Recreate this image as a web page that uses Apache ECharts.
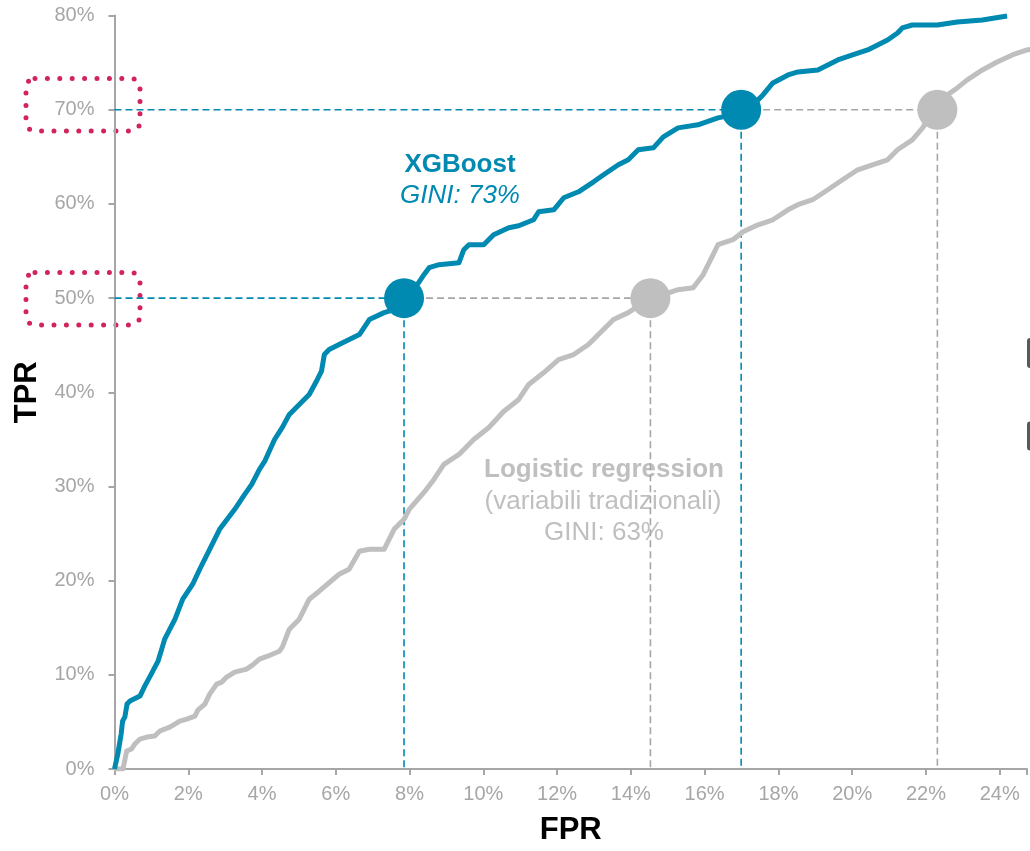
<!DOCTYPE html>
<html>
<head>
<meta charset="utf-8">
<script src="https://cdn.jsdelivr.net/npm/echarts@6/dist/echarts.min.js"></script>
<style>
html,body{margin:0;padding:0;background:#fff;overflow:hidden}
#c{width:1030px;height:851px}
</style>
</head>
<body>
<div id="c"></div>
<script>
// ---- data (percent units) ----
const xgbFpr = [0,0.09,0.18,0.22,0.28,0.34,0.42,0.69,0.82,1.01,1.18,1.28,1.36,1.64,1.85,2.12,2.31,2.58,2.85,3.26,3.53,3.72,3.93,4.07,4.34,4.55,4.74,5.01,5.28,5.50,5.61,5.69,5.82,6.09,6.64,6.91,7.31,7.58,7.85,8.12,8.39,8.53,8.80,9.34,9.47,9.61,10.01,10.28,10.69,10.96,11.36,11.50,11.91,12.18,12.58,12.99,13.26,13.66,13.93,14.20,14.61,14.88,15.28,15.82,16.36,16.77,16.99,17.31,17.58,17.85,18.26,18.53,19.07,19.34,19.61,20.01,20.42,20.69,20.96,21.23,21.36,21.63,22.31,22.85,23.53,24.20];
const xgbTpr = [0,1.59,3.71,5.09,5.51,6.89,7.21,7.74,8.80,10.18,11.45,12.73,13.79,15.91,18.03,19.62,21.21,23.33,25.45,27.57,29.16,30.22,31.82,32.66,34.99,36.27,37.65,38.71,39.77,41.36,42.21,44.01,44.54,45.07,46.13,47.72,48.46,48.78,50.0,50.9,52.49,53.23,53.55,53.76,55.14,55.67,55.67,56.73,57.48,57.69,58.32,59.17,59.38,60.66,61.29,62.35,63.10,64.16,64.69,65.75,65.96,67.13,68.08,68.40,69.14,69.46,70.0,70.52,71.58,72.85,73.70,74.02,74.23,74.76,75.29,75.82,76.35,76.88,77.41,78.15,78.69,79.00,79.00,79.32,79.53,79.96];
const lrFpr = [0,0.23,0.33,0.46,0.55,0.69,0.88,1.09,1.23,1.50,1.77,1.96,2.18,2.26,2.45,2.58,2.77,2.91,3.04,3.26,3.58,3.74,3.93,4.15,4.47,4.55,4.74,5.01,5.28,5.55,6.09,6.36,6.64,6.91,7.31,7.58,7.85,7.99,8.39,8.66,8.93,9.34,9.74,10.15,10.55,10.96,11.23,11.64,12.04,12.45,12.85,13.12,13.53,13.93,14.34,14.53,14.88,15.28,15.69,15.96,16.23,16.36,16.77,17.04,17.45,17.85,18.26,18.53,18.93,19.34,19.74,20.15,20.55,20.96,21.23,21.63,21.91,22.04,22.31,22.58,22.85,23.12,23.53,23.93,24.34,24.74,25.15];
const lrTpr = [0,0,1.91,2.12,2.65,3.18,3.39,3.50,4.03,4.45,5.09,5.30,5.62,6.26,6.89,7.95,9.01,9.23,9.76,10.29,10.60,11.03,11.66,11.98,12.51,12.94,14.85,15.91,18.03,18.88,20.68,21.21,23.12,23.33,23.33,25.45,26.51,27.57,29.37,30.75,32.34,33.40,34.99,36.27,37.96,39.24,40.83,42.10,43.48,44.01,45.07,46.13,47.72,48.46,49.52,50.0,50.37,50.90,51.11,52.49,54.61,55.67,56.20,57.05,57.79,58.32,59.38,59.92,60.45,61.51,62.57,63.63,64.16,64.69,65.75,66.81,68.08,68.93,70.0,71.58,72.32,73.17,74.23,75.08,75.82,76.35,76.56];
const opTpr = [50, 70];          // operating points (TPR)
const xgbOpFpr = [7.85, 16.99];  // FPR of XGBoost at those TPRs
const lrOpFpr = [14.53, 22.31];  // FPR of logistic regression at those TPRs

const TEAL = '#0089B1';
const GREY = '#BFBFBF';
const FONT = '"Liberation Sans", Arial, sans-serif';

const zip = (a, b) => a.map((v, i) => [v, b[i]]);

const guides = [];
opTpr.forEach((t, i) => {
  guides.push({ data: [[0, t], [xgbOpFpr[i], t]], color: TEAL });
  guides.push({ data: [[xgbOpFpr[i], t], [xgbOpFpr[i], 0]], color: TEAL });
  guides.push({ data: [[xgbOpFpr[i], t], [lrOpFpr[i], t]], color: '#A6A6A6' });
  guides.push({ data: [[lrOpFpr[i], t], [lrOpFpr[i], 0]], color: '#A6A6A6' });
});

const chart = echarts.init(document.getElementById('c'), null, { renderer: 'canvas' });

const option = {
  animation: false,
  backgroundColor: '#fff',
  grid: { left: 114.5, right: 0, top: 15.6, bottom: 81, containLabel: false },
  xAxis: {
    type: 'value', min: 0, max: 24.74, interval: 2,
    name: 'FPR', nameLocation: 'middle', nameGap: 46,
    nameTextStyle: { fontSize: 31, fontWeight: 'bold', color: '#000', fontFamily: FONT },
    axisLine: { show: true, onZero: false, lineStyle: { color: '#A6A6A6', width: 2 } },
    axisTick: { show: true, length: 6, lineStyle: { color: '#A6A6A6', width: 2 } },
    axisLabel: { margin: 15, fontSize: 20, color: '#A6A6A6', fontFamily: FONT,
      formatter: v => (Math.abs(v / 2 - Math.round(v / 2)) < 1e-6 ? Math.round(v) + '%' : '') },
    splitLine: { show: false }
  },
  yAxis: {
    type: 'value', min: 0, max: 80, interval: 10,
    name: 'TPR', nameLocation: 'middle', nameGap: 72, nameRotate: 90,
    nameTextStyle: { fontSize: 31, fontWeight: 'bold', color: '#000', fontFamily: FONT },
    axisLine: { show: true, lineStyle: { color: '#A6A6A6', width: 2 } },
    axisTick: { show: true, length: 6, lineStyle: { color: '#A6A6A6', width: 2 } },
    axisLabel: { margin: 20, fontSize: 20, color: '#A6A6A6', fontFamily: FONT, formatter: '{value}%' },
    splitLine: { show: false }
  },
  series: [
    ...guides.map(g => ({
      type: 'line', data: g.data, showSymbol: false, silent: true, z: 1,
      lineStyle: { color: g.color, width: 1.6, type: [7, 4] }
    })),
    {
      name: 'Logistic regression', type: 'line', data: zip(lrFpr, lrTpr), showSymbol: false, z: 2,
      lineStyle: { color: GREY, width: 5, join: 'round' }, clip: true
    },
    {
      name: 'XGBoost', type: 'line', data: zip(xgbFpr, xgbTpr), showSymbol: false, z: 3,
      lineStyle: { color: TEAL, width: 5, join: 'round' }, clip: true
    },
    {
      type: 'scatter', data: zip(lrOpFpr, opTpr), symbolSize: 40, z: 4,
      itemStyle: { color: GREY, opacity: 1 }
    },
    {
      type: 'scatter', data: zip(xgbOpFpr, opTpr), symbolSize: 40, z: 5,
      itemStyle: { color: TEAL, opacity: 1 }
    }
  ],
  graphic: [
    { type: 'text', left: null, x: 460, y: 165, style: { text: 'XGBoost', fill: TEAL, font: 'bold 26px ' + FONT, textAlign: 'center', textVerticalAlign: 'middle' } },
    { type: 'text', x: 460, y: 196, style: { text: 'GINI: 73%', fill: TEAL, font: 'italic 26px ' + FONT, textAlign: 'center', textVerticalAlign: 'middle' } },
    { type: 'text', x: 604, y: 470, style: { text: 'Logistic regression', fill: GREY, font: 'bold 26px ' + FONT, textAlign: 'center', textVerticalAlign: 'middle' } },
    { type: 'text', x: 603, y: 502, style: { text: '(variabili tradizionali)', fill: GREY, font: '26px ' + FONT, textAlign: 'center', textVerticalAlign: 'middle' } },
    { type: 'text', x: 604, y: 533, style: { text: 'GINI: 63%', fill: GREY, font: '26px ' + FONT, textAlign: 'center', textVerticalAlign: 'middle' } },
    { type: 'rect', shape: { x: 26, y: 78.5, width: 114, height: 52.5, r: 9 },
      style: { fill: 'none', stroke: '#D1245A', lineWidth: 5, lineDash: [0, 12.4], lineCap: 'round' } },
    { type: 'rect', shape: { x: 26, y: 272.5, width: 114, height: 52.5, r: 9 },
      style: { fill: 'none', stroke: '#D1245A', lineWidth: 5, lineDash: [0, 12.4], lineCap: 'round' } },
    { type: 'rect', shape: { x: 1027, y: 338, width: 12, height: 30, r: 3 }, style: { fill: '#595959' } },
    { type: 'rect', shape: { x: 1027, y: 421.5, width: 12, height: 29, r: 3 }, style: { fill: '#595959' } }
  ]
};
chart.setOption(option);
</script>
</body>
</html>
